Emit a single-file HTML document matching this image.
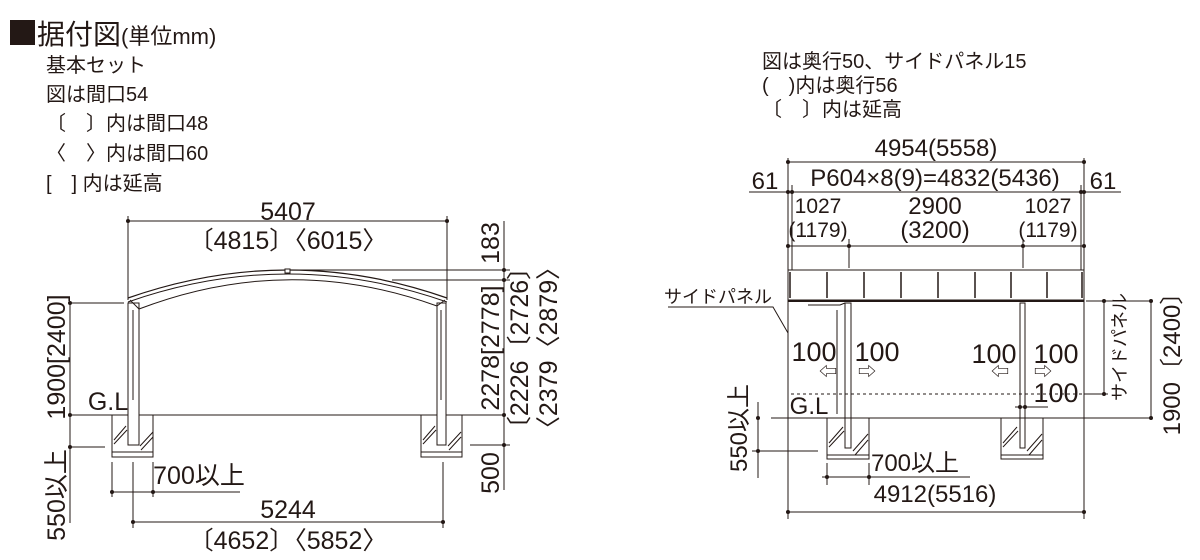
<!DOCTYPE html>
<html><head><meta charset="utf-8"><style>
html,body{margin:0;padding:0;background:#fff;}
svg{display:block;}
text{font-family:"Liberation Sans","Noto Sans CJK JP",sans-serif;fill:#231815;}
</style></head><body>
<svg width="1200" height="560" viewBox="0 0 1200 560" xmlns="http://www.w3.org/2000/svg">
<g fill="#231815">
<rect x="10" y="20" width="25" height="25"/>
</g>
<text x="37" y="44" font-size="28">据付図<tspan font-size="22">(単位mm)</tspan></text>
<g font-size="20">
<text x="46" y="72">基本セット</text>
<text x="46" y="101">図は間口54</text>
<text x="46" y="130">〔　〕内は間口48</text>
<text x="46" y="160">〈　〉内は間口60</text>
<text x="46" y="190">[　] 内は延高</text>
<text x="762" y="68">図は奥行50、サイドパネル15</text>
<text x="762" y="92">(　)内は奥行56</text>
<text x="762" y="116">〔　〕内は延高</text>
</g>

<!-- LEFT DRAWING -->
<g stroke="#231815" stroke-width="1" fill="none">
<line x1="128" y1="216" x2="128" y2="300"/><line x1="447" y1="216" x2="447" y2="300"/>
<line x1="128" y1="221" x2="447" y2="221"/>
<path d="M128 298 Q288 242 447 298" stroke-width="1.2"/>
<path d="M128 302 Q288 246 447 302" stroke-width="1"/>
<path d="M139 309 Q288 252 437 306"/>
<path d="M130 300 L139 309 M445 300 L437 306"/>
<rect x="285" y="269" width="5" height="4" fill="#fff"/>
<rect x="128" y="303" width="11" height="142"/>
<rect x="437" y="303" width="9" height="142"/>
<line x1="133" y1="310" x2="133" y2="400"/><line x1="441" y1="310" x2="441" y2="400"/>
<line x1="72" y1="415" x2="128" y2="415"/><line x1="139" y1="415" x2="437" y2="415"/><line x1="446" y1="415" x2="505" y2="415"/>
<path d="M112 415 V452 H153 V415"/><path d="M421 415 V452 H462 V415"/>
<rect x="112" y="452" width="41" height="5"/><rect x="421" y="452" width="41" height="5"/>
<path d="M114 440 L126 426 M114 444 L127 430 M140 446 L153 432 M141 450 L153 437"/>
<path d="M423 440 L435 426 M423 444 L436 430 M448 446 L461 432 M449 450 L461 437"/>
<line x1="504" y1="221" x2="504" y2="490"/>
<line x1="290" y1="270" x2="510" y2="270"/>
<line x1="392" y1="280" x2="510" y2="280"/>
<line x1="470" y1="445" x2="510" y2="445"/>
<line x1="70" y1="303" x2="70" y2="523"/>
<line x1="70" y1="303" x2="124" y2="303"/>
<line x1="70" y1="447" x2="105" y2="447"/>
<line x1="112" y1="462" x2="112" y2="497"/><line x1="153" y1="462" x2="153" y2="497"/>
<line x1="112" y1="492" x2="240" y2="492"/>
<line x1="133" y1="462" x2="133" y2="528"/><line x1="443" y1="462" x2="443" y2="528"/>
<line x1="133" y1="522" x2="443" y2="522"/>
</g>
<g fill="#231815">
<circle cx="128" cy="221" r="2"/><circle cx="447" cy="221" r="2"/>
<circle cx="504" cy="270" r="2"/><circle cx="504" cy="280" r="2"/><circle cx="504" cy="415" r="2"/><circle cx="504" cy="445" r="2"/>
<circle cx="70" cy="303" r="2"/><circle cx="70" cy="415" r="2"/><circle cx="70" cy="447" r="2"/>
<circle cx="112" cy="492" r="2"/><circle cx="153" cy="492" r="2"/>
<circle cx="133" cy="522" r="2"/><circle cx="443" cy="522" r="2"/>
</g>
<g font-size="25" text-anchor="middle">
<text x="288" y="220">5407</text>
<text x="288" y="249">〔4815〕〈6015〉</text>
<text x="288" y="518">5244</text>
<text x="288" y="549">〔4652〕〈5852〉</text>
<text x="199" y="484">700以上</text>
<text x="108" y="410">G.L</text>
<text transform="translate(499,243) rotate(-90)">183</text>
<text transform="translate(499,348) rotate(-90)">2278[2778]</text>
<text transform="translate(499,473) rotate(-90)">500</text>
<text transform="translate(528,348) rotate(-90)">〔2226〔2726〕</text>
<text transform="translate(557,348) rotate(-90)">〈2379〈2879〉</text>
<text transform="translate(65,357) rotate(-90)">1900[2400]</text>
<text transform="translate(65,495) rotate(-90)">550以上</text>
</g>

<!-- RIGHT DRAWING -->
<g stroke="#231815" stroke-width="1" fill="none">
<line x1="788" y1="158" x2="788" y2="519"/><line x1="1084" y1="158" x2="1084" y2="519"/>
<line x1="792" y1="185" x2="792" y2="270"/><line x1="1081" y1="185" x2="1081" y2="270"/>
<line x1="788" y1="162" x2="1084" y2="162"/>
<line x1="749" y1="192" x2="1121" y2="192"/>
<line x1="788" y1="246" x2="1084" y2="246"/>
<line x1="849" y1="239" x2="849" y2="268"/><line x1="1023" y1="239" x2="1023" y2="268"/>
<rect x="788" y="270" width="296" height="30"/>
<line x1="788" y1="301" x2="1084" y2="301" stroke-width="2"/>
<g stroke-width="1.5">
<line x1="790" y1="272" x2="790" y2="298"/><line x1="827" y1="272" x2="827" y2="298"/><line x1="864" y1="272" x2="864" y2="298"/><line x1="901" y1="272" x2="901" y2="298"/><line x1="938" y1="272" x2="938" y2="298"/><line x1="975" y1="272" x2="975" y2="298"/><line x1="1011" y1="272" x2="1011" y2="298"/><line x1="1047" y1="272" x2="1047" y2="298"/><line x1="1082" y1="272" x2="1082" y2="298"/>
</g>
<path d="M788 301 V394 H1084 V301" stroke-dasharray="3,3"/>
<line x1="1084" y1="394" x2="1108" y2="394"/>
<rect x="845" y="303" width="6" height="145"/>
<rect x="1020" y="303" width="5" height="145"/>
<line x1="837" y1="310" x2="837" y2="414"/>
<path d="M808 305 L840 305 L845 303"/>
<line x1="771" y1="418" x2="1151" y2="418"/>
<path d="M827 418 V455 H869 V418"/><path d="M1001 418 V455 H1043 V418"/>
<rect x="827" y="455" width="42" height="4"/><rect x="1001" y="455" width="42" height="4"/>
<path d="M829 443 L843 427 M829 447 L844 431 M853 451 L868 434 M855 455 L868 440"/>
<path d="M1003 443 L1017 427 M1003 447 L1018 431 M1027 451 L1042 434 M1029 455 L1042 440"/>
<line x1="1015" y1="407" x2="1048" y2="407"/>
<line x1="1086" y1="301" x2="1151" y2="301"/>
<line x1="1104" y1="301" x2="1104" y2="394"/>
<line x1="1151" y1="301" x2="1151" y2="418"/>
<line x1="758" y1="402" x2="758" y2="478"/>
<line x1="752" y1="451" x2="818" y2="451"/>
<line x1="827" y1="463" x2="827" y2="485"/><line x1="869" y1="463" x2="869" y2="485"/>
<line x1="822" y1="477" x2="970" y2="477"/>
<line x1="788" y1="512" x2="1084" y2="512"/>
<path d="M668 307 L773 307 L788 333"/>
</g>
<g fill="#231815">
<circle cx="788" cy="162" r="2"/><circle cx="1084" cy="162" r="2"/>
<circle cx="788" cy="192" r="2"/><circle cx="792" cy="192" r="2"/><circle cx="1081" cy="192" r="2"/><circle cx="1084" cy="192" r="2"/>
<circle cx="788" cy="246" r="2"/><circle cx="849" cy="246" r="2"/><circle cx="1023" cy="246" r="2"/><circle cx="1084" cy="246" r="2"/>
<circle cx="1104" cy="301" r="2"/><circle cx="1104" cy="394" r="2"/><circle cx="1151" cy="301" r="2"/><circle cx="1151" cy="418" r="2"/>
<circle cx="758" cy="418" r="2"/><circle cx="758" cy="451" r="2"/>
<circle cx="827" cy="477" r="2"/><circle cx="869" cy="477" r="2"/>
<circle cx="788" cy="512" r="2"/><circle cx="1084" cy="512" r="2"/>
<circle cx="1020" cy="407" r="2"/><circle cx="1025" cy="407" r="2"/>
</g>
<g font-size="24" text-anchor="middle">
<text x="936" y="156">4954(5558)</text>
<text x="935" y="186">P604×8(9)=4832(5436)</text>
<text x="765" y="189">61</text>
<text x="1103" y="189">61</text>
<text x="818" y="213" font-size="21">1027</text>
<text x="818" y="237" font-size="21">(1179)</text>
<text x="935" y="214">2900</text>
<text x="935" y="238">(3200)</text>
<text x="1048" y="213" font-size="21">1027</text>
<text x="1048" y="237" font-size="21">(1179)</text>
<text x="814" y="361" font-size="27">100</text>
<text x="877" y="361" font-size="27">100</text>
<text x="994" y="363" font-size="27">100</text>
<text x="1056" y="363" font-size="27">100</text>
<text x="1056" y="402" font-size="27">100</text>
<text x="828" y="378" font-size="18">⇦</text>
<text x="867" y="378" font-size="18">⇨</text>
<text x="1000" y="378" font-size="18">⇦</text>
<text x="1043" y="378" font-size="18">⇨</text>
<text x="809" y="414">G.L</text>
<text x="915" y="471">700以上</text>
<text x="935" y="502">4912(5516)</text>
<text x="718" y="303" font-size="18">サイドパネル</text>
<text transform="translate(1126,347) rotate(-90)" font-size="18">サイドパネル</text>
<text transform="translate(1180,358) rotate(-90)">1900〔2400〕</text>
<text transform="translate(747,428) rotate(-90)">550以上</text>
</g>
</svg>
</body></html>
